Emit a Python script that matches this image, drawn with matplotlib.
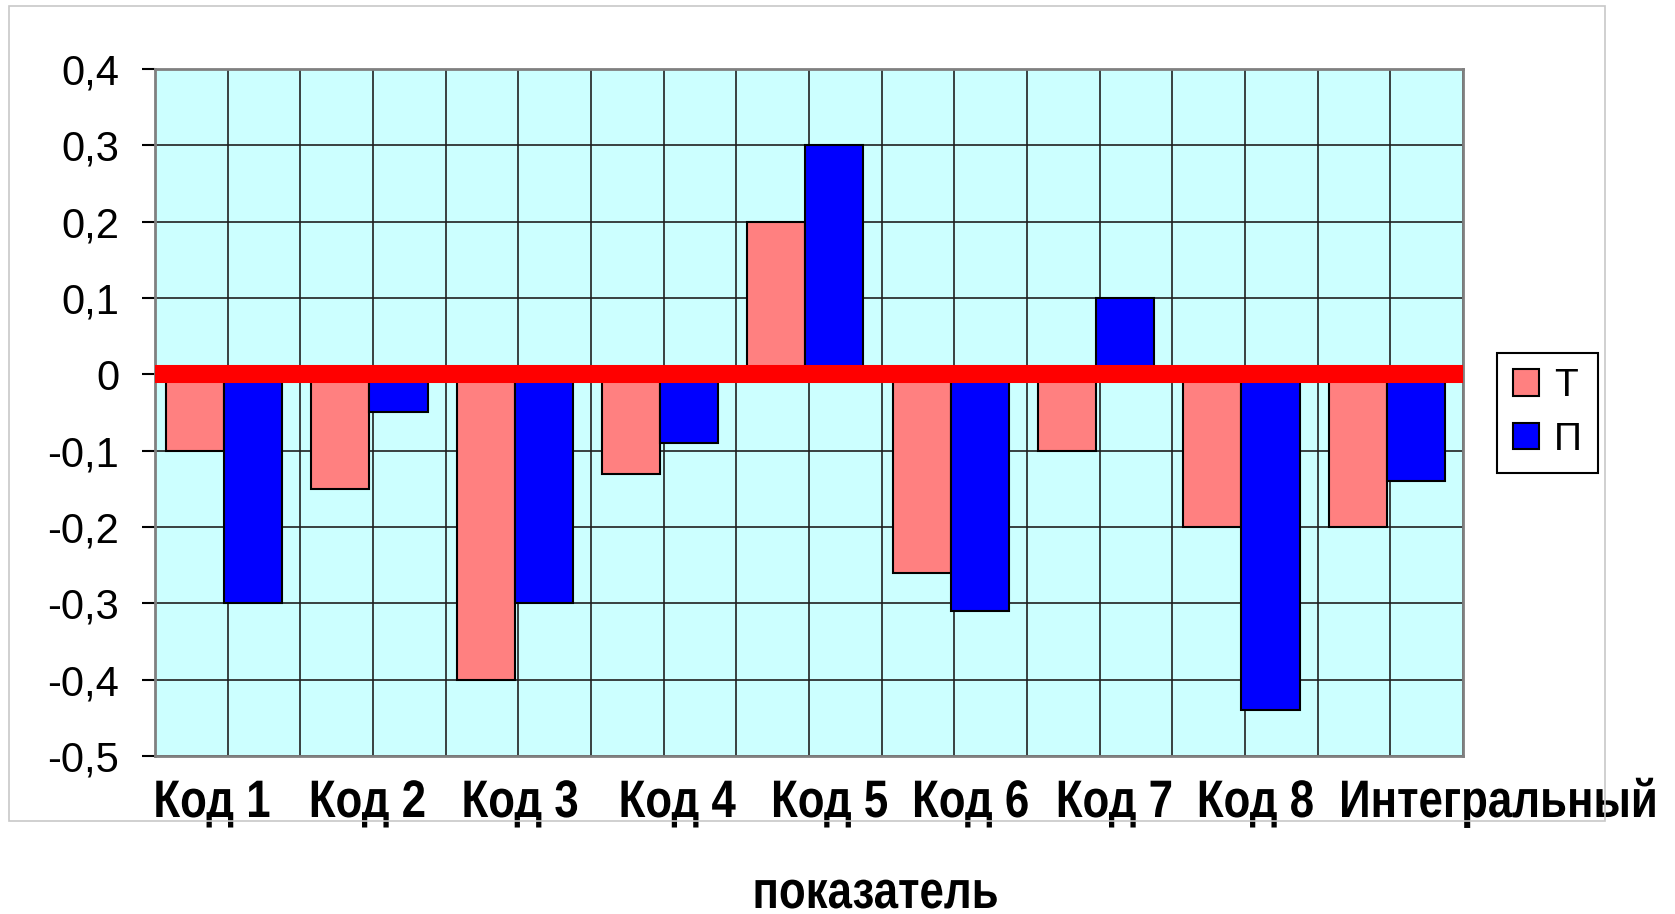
import matplotlib
matplotlib.use("Agg")
import matplotlib.pyplot as plt
from matplotlib.patches import Rectangle, Patch
from matplotlib.patheffects import AbstractPathEffect
from matplotlib.ticker import FuncFormatter
from matplotlib.transforms import Affine2D, blended_transform_factory
import numpy as np

# --- data ---
categories = ["Код 1", "Код 2", "Код 3", "Код 4", "Код 5", "Код 6", "Код 7", "Код 8", "Интегральный"]
values_t = [-0.10, -0.15, -0.40, -0.13, 0.20, -0.26, -0.10, -0.20, -0.20]
values_p = [-0.30, -0.05, -0.30, -0.09, 0.30, -0.31, 0.10, -0.44, -0.14]
series_names = ["Т", "П"]
second_line = "показатель"

# --- label layout (the original spreads the labels unevenly, in category units) ---
label_pos = [0.39, 1.46, 2.51, 3.59, 4.64, 5.61, 6.60, 7.57, 9.24]
SQUEEZE = 0.83  # narrow bold look (Arial Narrow is ~0.82 of Arial)


class Squeeze(AbstractPathEffect):
    """Draw text horizontally condensed around its centre (fake narrow font)."""
    def __init__(self, sx):
        super().__init__()
        self.sx = sx

    def draw_path(self, renderer, gc, tpath, affine, rgbFace=None):
        ext = tpath.get_extents(affine)
        cx = (ext.x0 + ext.x1) / 2
        aff = affine + Affine2D().translate(-cx, 0).scale(self.sx, 1).translate(cx, 0)
        renderer.draw_path(gc, tpath, aff, rgbFace)


font = ["Liberation Sans", "DejaVu Sans"]
W, H = 1675, 914

fig = plt.figure(figsize=(W / 100, H / 100), dpi=100)
ax = fig.add_axes([155 / W, 1 - 756 / H, (1463 - 155) / W, (756 - 69) / H])
ax.set_facecolor("#CCFFFF")

x = np.arange(len(categories)) + 0.475
w = 0.4
ax.bar(x - w / 2, values_t, w, color="#FF8080", edgecolor="black", linewidth=1.5, zorder=3)
ax.bar(x + w / 2, values_p, w, color="#0000FF", edgecolor="black", linewidth=1.5, zorder=3)
ax.axhline(0, color="#FF0000", linewidth=13, zorder=4)

ax.set_xticks(np.arange(0, len(categories) + 0.01, 0.5))
ax.set_xticklabels([])
ax.set_xlim(0, len(categories))
ax.set_ylim(-0.5, 0.4)
ax.set_yticks(np.arange(-0.5, 0.41, 0.1))
ax.yaxis.set_major_formatter(FuncFormatter(lambda v, p: "0" if abs(v) < 1e-9 else f"{v:.1f}".replace(".", ",")))
ax.tick_params(axis="x", length=0)
ax.tick_params(axis="y", length=9.4, width=1.5, direction="out", pad=16.5, labelsize=30)
for lbl in ax.get_yticklabels():
    lbl.set_family(font)

ax.grid(axis="both", color="#202020", linewidth=1.2, zorder=1)
ax.set_axisbelow(True)
for s in ax.spines.values():
    s.set_color("#808080")
    s.set_linewidth(2)

# category labels, bold and condensed
trans = blended_transform_factory(ax.transData, fig.transFigure)
for name, pos in zip(categories, label_pos):
    t = ax.text(pos, 1 - 817 / H, name, transform=trans, fontsize=38, fontweight="bold",
                family=font, ha="center", va="baseline", clip_on=False)
    t.set_path_effects([Squeeze(SQUEEZE)])

t2 = fig.text(875 / W, 1 - 908 / H, second_line, fontsize=38, fontweight="bold",
              family=font, ha="center", va="baseline")
t2.set_path_effects([Squeeze(SQUEEZE)])

handles = [Patch(facecolor="#FF8080", edgecolor="black", linewidth=1.5),
           Patch(facecolor="#0000FF", edgecolor="black", linewidth=1.5)]
leg = fig.legend(handles, series_names, loc="center left",
                 bbox_to_anchor=(1497 / W, 1 - 413 / H), borderaxespad=0,
                 prop={"family": font, "size": 28},
                 handlelength=0.67, handleheight=0.67, handletextpad=0.4,
                 labelspacing=0.45, borderpad=0.4, fancybox=False,
                 edgecolor="black", framealpha=1)
leg.get_frame().set_linewidth(1.5)

fig.patches.append(Rectangle((9 / W, 1 - 821 / H), (1605 - 9) / W, (821 - 6) / H,
                             transform=fig.transFigure, fill=False,
                             edgecolor="#C8C8C8", linewidth=1.2, zorder=0))

fig.savefig("out.png", dpi=100)
